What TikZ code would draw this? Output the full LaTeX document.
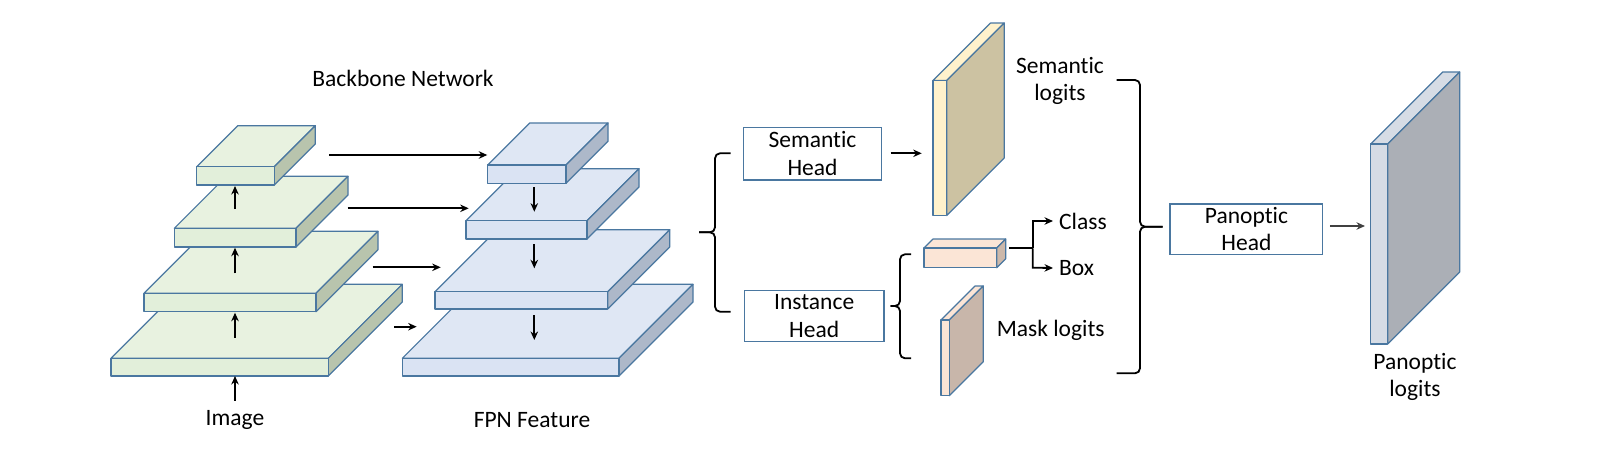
\documentclass[tikz,border=0pt]{standalone}
\usepackage{fontspec}
\setmainfont[Ligatures={NoCommon,NoContextual}]{Carlito}
\usetikzlibrary{arrows.meta}
\definecolor{edgeblue}{HTML}{4A77A0}
\definecolor{gfront}{HTML}{E2EFDA}
\definecolor{gtop}{HTML}{E8F2E0}
\definecolor{gside}{HTML}{B8C4AD}
\definecolor{bfront}{HTML}{DAE3F3}
\definecolor{btop}{HTML}{DFE7F4}
\definecolor{bside}{HTML}{ADB8C9}
\definecolor{yfront}{HTML}{FFF2CC}
\definecolor{yside}{HTML}{CCC2A2}
\definecolor{pfront}{HTML}{FBE5D6}
\definecolor{pside}{HTML}{CCB8AA}
\definecolor{mside}{HTML}{C8B6AA}
\definecolor{gyfront}{HTML}{D6DCE5}
\definecolor{gyside}{HTML}{ABAFB6}
\newcommand{\mycuboid}[8]{%
  \filldraw[edge, fill=#7] (#1,-#2) -- ++(#5,#5) -- ++(#3,0) -- ++(-#5,-#5) -- cycle;
  \filldraw[edge, fill=#8] (#1+#3,-#2) -- ++(#5,#5) -- ++(0,-#4) -- ++(-#5,-#5) -- cycle;
  \filldraw[edge, fill=#6] (#1,-#2) rectangle ++(#3,-#4);
}
\begin{document}
\begin{tikzpicture}[x=1pt,y=1pt,
  edge/.style={draw=edgeblue, line width=1.2pt, line join=round},
  arr/.style={-{Stealth[length=8.5pt,width=7.5pt]}, line width=1.8pt},
  brace/.style={line width=1.8pt, rounded corners=5pt},
  headbox/.style={draw=edgeblue, line width=1.2pt, fill=white, align=center,
    font=\fontsize{23.5}{27.5}\selectfont, inner sep=0pt},
  lbl/.style={font=\fontsize{23.5}{27.5}\selectfont, align=center, inner sep=0pt}]
\useasboundingbox (0,0) rectangle (1601,-453);
% backbone stack
\mycuboid{111}{358.3}{217.3}{17.7}{74}{gfront}{gtop}{gside}
\mycuboid{144}{293.3}{172}{18.4}{62}{gfront}{gtop}{gside}
\mycuboid{174.3}{228.3}{121.7}{18.7}{52}{gfront}{gtop}{gside}
\mycuboid{196.7}{166.7}{77.6}{18.3}{41}{gfront}{gtop}{gside}
% FPN stack
\mycuboid{402.3}{358.3}{216.7}{17.7}{74}{bfront}{btop}{bside}
\mycuboid{435}{291.7}{172.7}{17.3}{62}{bfront}{btop}{bside}
\mycuboid{466}{220.7}{121}{18.3}{52}{bfront}{btop}{bside}
\mycuboid{487.7}{165}{78.3}{18.3}{42}{bfront}{btop}{bside}
% logits slabs
\mycuboid{933}{80.5}{13.7}{135}{57.5}{yfront}{yfront}{yside}
\mycuboid{924}{248}{72.7}{19.7}{9}{pfront}{pfront}{pside}
\mycuboid{941}{320}{8.3}{75.7}{34}{pfront}{pfront}{mside}
\mycuboid{1370.7}{144}{17}{200}{72}{gyfront}{gyfront}{gyside}
% labels
\node[lbl] (bbn) at (403,-78) {Backbone Network};
\node[lbl] (img) at (235,-420) {Image};
\node[lbl] (fpn) at (532,-420) {FPN Feature};
\node[lbl] (semlog) at (1060,-81) {Semantic\\logits};
\node[lbl, anchor=west] (cls) at (1059,-221) {Class};
\node[lbl, anchor=west] (boxl) at (1059,-268) {Box};
\node[lbl] (masklog) at (1050.7,-330) {Mask logits};
\node[lbl] (panlog) at (1415,-377) {Panoptic\\logits};
% heads
\node[headbox, minimum width=138.4pt, minimum height=52.7pt] (semhead) at (812.5,-153.7) {Semantic\\Head};
\node[headbox, minimum width=139.7pt, minimum height=51pt] (insthead) at (814.2,-316.2) {Instance\\Head};
\node[headbox, minimum width=152.7pt, minimum height=50.3pt] (panhead) at (1246.4,-229.2) {Panoptic\\Head};
% up arrows backbone
\coordinate (u1a) at (235,-209); \coordinate (u1b) at (235,-186);
\coordinate (u2a) at (235,-273.3); \coordinate (u2b) at (235,-247.7);
\coordinate (u3a) at (235,-337.7); \coordinate (u3b) at (235,-312.7);
\coordinate (u4a) at (235,-400.7); \coordinate (u4b) at (235,-376);
\draw[arr] (u1a) -- (u1b);
\draw[arr] (u2a) -- (u2b);
\draw[arr] (u3a) -- (u3b);
\draw[arr] (u4a) -- (u4b);
% lateral arrows
\coordinate (l1a) at (329.3,-155); \coordinate (l1b) at (487.3,-155);
\coordinate (l2a) at (347.7,-208.3); \coordinate (l2b) at (468.7,-208.3);
\coordinate (l3a) at (372.7,-267.3); \coordinate (l3b) at (440.7,-267.3);
\coordinate (l4a) at (394,-326.7); \coordinate (l4b) at (416.7,-326.7);
\draw[arr] (l1a) -- (l1b);
\draw[arr] (l2a) -- (l2b);
\draw[arr] (l3a) -- (l3b);
\draw[arr] (l4a) -- (l4b);
% down arrows FPN
\coordinate (d1a) at (534.3,-187.3); \coordinate (d1b) at (534.3,-211.7);
\coordinate (d2a) at (534.3,-244); \coordinate (d2b) at (534.3,-268.3);
\coordinate (d3a) at (534.3,-315); \coordinate (d3b) at (534.3,-340);
\draw[arr] (d1a) -- (d1b);
\draw[arr] (d2a) -- (d2b);
\draw[arr] (d3a) -- (d3b);
% big left brace
\coordinate (bl-top) at (730.7,-153.3); \coordinate (bl-tip) at (699,-232.3); \coordinate (bl-bot) at (730.7,-311.7);
\draw[brace] (bl-top) -- (715,-153.3) -- (715,-232.3) -- (bl-tip);
\draw[brace] (bl-tip) -- (715,-232.3) -- (715,-311.7) -- (bl-bot);
% semantic head arrow
\coordinate (sa) at (890.7,-153.3); \coordinate (sb) at (921.7,-153.3);
\draw[arr] (sa) -- (sb);
% small brace
\coordinate (sbt) at (911,-254.3); \coordinate (sbtip) at (890.7,-306); \coordinate (sbb) at (911,-358.3);
\draw[brace] (sbt) -- (900,-254.3) -- (900,-306) -- (sbtip);
\draw[brace] (sbtip) -- (900,-306) -- (900,-358.3) -- (sbb);
% fork to class / box
\coordinate (fa) at (1009.3,-248.3); \coordinate (fj) at (1032.7,-248.3);
\coordinate (fc) at (1032.7,-221); \coordinate (fb) at (1032.7,-267.7);
\draw[line width=1.8pt] (fa) -- (fj);
\draw[arr] (fj) -- (fc) -- ([xshift=-6pt]cls.west);
\draw[arr] (fj) -- (fb) -- ([xshift=-6pt]boxl.west);
% right brace
\coordinate (br-top) at (1116.7,-80); \coordinate (br-tip) at (1162.7,-226.7); \coordinate (br-bot) at (1116.7,-373.3);
\draw[brace] (br-top) -- (1140,-80) -- (1140,-226.7) -- (br-tip);
\draw[brace] (br-tip) -- (1140,-226.7) -- (1140,-373.3) -- (br-bot);
% panoptic arrow
\coordinate (pa) at (1365,-226);
\draw[arr, draw=black!75, fill=black!75] ([xshift=6.6pt]panhead.east |- 0,-226) -- (pa);
\end{tikzpicture}
\end{document}
